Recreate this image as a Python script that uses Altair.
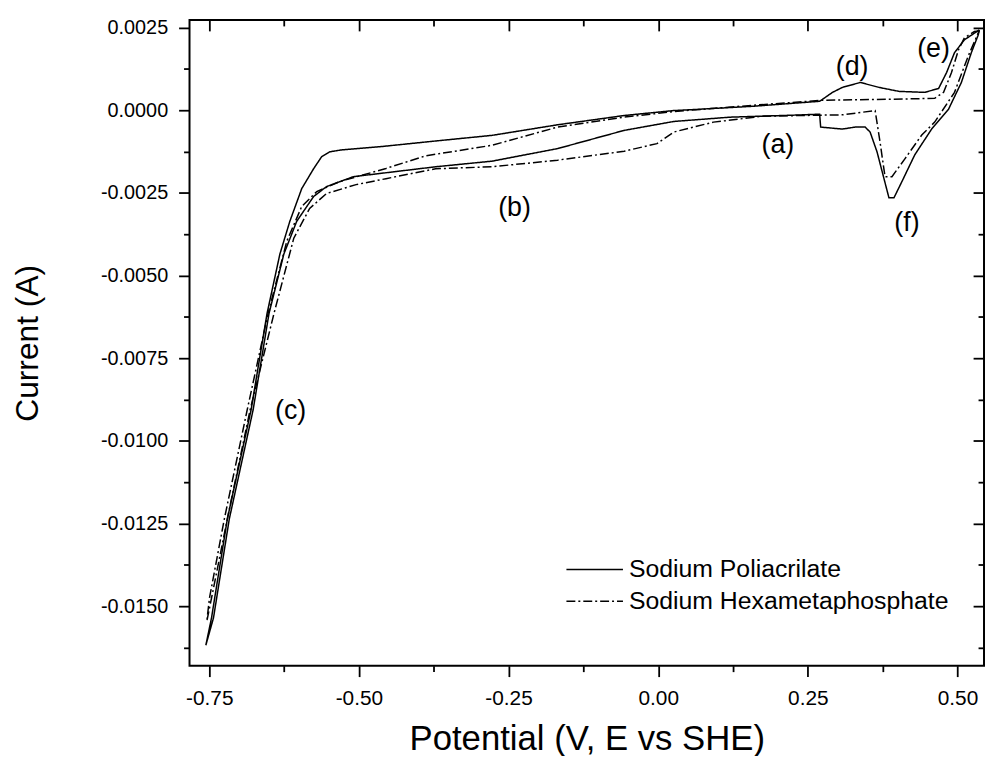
import altair as alt
import pandas as pd

FONT = "Liberation Sans"

series_names = ["Sodium Poliacrilate", "Sodium Hexametaphosphate"]

# Sodium Poliacrilate (solid) - potential (V) and current (A), in drawing order
pa_v = [0.5365, 0.5116, 0.4950, 0.4818, 0.4685, 0.4453, 0.4022, 0.3691, 0.3376, 0.3077,
        0.2912, 0.2697, 0.1586, 0.0592, 0.0260, -0.0569, -0.1680, -0.2774, -0.3717, -0.4630,
        -0.5292, -0.5491, -0.5624, -0.5757, -0.5955, -0.6154, -0.6320, -0.6535, -0.6801, -0.7198,
        -0.7463, -0.7557,
        -0.7430, -0.7165, -0.6767, -0.6502, -0.6254, -0.6039, -0.5757, -0.5541, -0.5094, -0.3717,
        -0.2774, -0.1680, -0.0569, 0.0260, 0.1199, 0.2247, 0.2697, 0.2714, 0.3077, 0.3291,
        0.3457, 0.3540, 0.3656, 0.3772, 0.3855, 0.3938, 0.4071, 0.4286, 0.4568, 0.4850,
        0.5065, 0.5231, 0.5347, 0.5365]
pa_i = [0.00243, 0.00213, 0.00174, 0.00114, 0.00066, 0.00054, 0.00057, 0.00069, 0.00084, 0.00069,
        0.00054, 0.00027, 0.00012, 0.00002, -0.00001, -0.00016, -0.00044, -0.00076, -0.00093, -0.00110,
        -0.00120, -0.00126, -0.00141, -0.00177, -0.00237, -0.00336, -0.00435, -0.00615, -0.00906, -0.01236,
        -0.01536, -0.01618,
        -0.01536, -0.01236, -0.00906, -0.00615, -0.00435, -0.00336, -0.00261, -0.00231, -0.00201, -0.00171,
        -0.00154, -0.00116, -0.00061, -0.00034, -0.00021, -0.00015, -0.00012, -0.00051, -0.00057, -0.00051,
        -0.00051, -0.00066, -0.00126, -0.00207, -0.00265, -0.00265, -0.00216, -0.00135, -0.00057, 0.00003,
        0.00084, 0.00174, 0.00228, 0.00243]

# Sodium Hexametaphosphate (dash-dot)
hx_v = [0.5365, 0.5282, 0.5116, 0.5017, 0.4900, 0.4768, 0.4619, 0.3855, 0.2743, 0.1586,
        0.0260, -0.0569, -0.1680, -0.2774, -0.3884, -0.4547, -0.5324, -0.5704, -0.5955, -0.6204,
        -0.6518, -0.6866, -0.7248, -0.7497, -0.7541,
        -0.7463, -0.7198, -0.6817, -0.6419, -0.6088, -0.5823, -0.5541, -0.5047, -0.4548, -0.3717,
        -0.2774, -0.1680, -0.0569, -0.0021, 0.0260, 0.0923, 0.1752, 0.2697, 0.3077, 0.3624,
        0.3706, 0.3789, 0.3905, 0.4121, 0.4403, 0.4619, 0.4950, 0.5182, 0.5347, 0.5365]
hx_i = [0.00240, 0.00238, 0.00219, 0.00183, 0.00114, 0.00054, 0.00036, 0.00033, 0.00030, 0.00015,
        -0.00004, -0.00021, -0.00051, -0.00106, -0.00138, -0.00176, -0.00216, -0.00246, -0.00291, -0.00396,
        -0.00615, -0.00906, -0.01236, -0.01476, -0.01546,
        -0.01476, -0.01236, -0.00906, -0.00615, -0.00387, -0.00297, -0.00252, -0.00225, -0.00207, -0.00177,
        -0.00171, -0.00151, -0.00124, -0.00101, -0.00066, -0.00036, -0.00018, -0.00015, -0.00014, -0.00001,
        -0.00096, -0.00201, -0.00201, -0.00147, -0.00075, -0.00036, 0.00054, 0.00165, 0.00234, 0.00240]

ann_text = ["(a)", "(b)", "(c)", "(d)", "(e)", "(f)"]
ann_v = [0.200, -0.240, -0.614, 0.324, 0.460, 0.4155]
ann_i = [-0.00106, -0.00296, -0.00909, 0.00132, 0.00184, -0.00341]

x_major = [-0.75, -0.5, -0.25, 0.0, 0.25, 0.5]
x_minor = [-0.625, -0.375, -0.125, 0.125, 0.375]
y_major = [-0.015, -0.0125, -0.01, -0.0075, -0.005, -0.0025, 0.0, 0.0025]
y_minor = [-0.01625, -0.01375, -0.01125, -0.00875, -0.00625, -0.00375, -0.00125, 0.00125]

x_domain = [-0.783, 0.5443]
y_domain = [-0.0168, 0.00273]

rows = []
for k, (v, c) in enumerate(zip(pa_v, pa_i)):
    rows.append({"series": series_names[0], "idx": k, "v": v, "i": c})
for k, (v, c) in enumerate(zip(hx_v, hx_i)):
    rows.append({"series": series_names[1], "idx": k, "v": v, "i": c})
df = pd.DataFrame(rows)
ann_df = pd.DataFrame({"t": ann_text, "v": ann_v, "i": ann_i})

xs = alt.Scale(domain=x_domain, nice=False, zero=False)
ys = alt.Scale(domain=y_domain, nice=False, zero=False)

W, H = 801, 651

x_lab = "replace(format(datum.value, '.2f'), '\u2212', '-')"
y_lab = "replace(format(datum.value, '.4f'), '\u2212', '-')"

base = alt.Chart(df)

lines = base.mark_line(color="black", strokeWidth=1.5).encode(
    x=alt.X("v:Q", scale=xs, axis=alt.Axis(
        orient="bottom", values=x_major, tickSize=11, labelExpr=x_lab,
        labelPadding=11, labelFontSize=21, title="Potential (V, E vs SHE)", titleY=74,
        titleFontSize=35, titleBaseline="middle", domain=False, grid=False)),
    y=alt.Y("i:Q", scale=ys, axis=alt.Axis(
        orient="left", values=y_major, tickSize=11, labelExpr=y_lab,
        labelPadding=11, labelFontSize=20, title="Current (A)", titleX=-163, titleY=H / 2,
        titleFontSize=32, titleAngle=-90, titleAlign="center", titleBaseline="middle",
        domain=False, grid=False)),
    strokeDash=alt.StrokeDash("series:N", scale=alt.Scale(
        domain=series_names, range=[[1, 0], [9, 3, 2, 3]]),
        legend=alt.Legend(
            title=None, orient="none", legendX=379, legendY=539,
            symbolType="stroke", symbolSize=3249, symbolStrokeWidth=1.5,
            symbolStrokeColor="black", labelFontSize=25, labelFont=FONT,
            labelColor="black", labelOffset=5, labelLimit=600,
            clipHeight=30, rowPadding=2)),
    order="idx:Q",
)

minor = base.mark_point(opacity=0).encode(
    x=alt.X("v:Q", scale=xs, axis=alt.Axis(
        orient="bottom", values=x_minor, tickSize=6, labels=False,
        title=None, domain=False, grid=False)),
    y=alt.Y("i:Q", scale=ys, axis=alt.Axis(
        orient="left", values=y_minor, tickSize=6, labels=False,
        title=None, domain=False, grid=False)),
)

top_major = base.mark_point(opacity=0).encode(
    x=alt.X("v:Q", scale=xs, axis=alt.Axis(
        orient="top", values=x_major, tickSize=11, offset=-11, labels=False,
        title=None, domain=False, grid=False)),
    y=alt.Y("i:Q", scale=ys, axis=alt.Axis(
        orient="right", values=y_major, tickSize=11, offset=-11, labels=False,
        title=None, domain=False, grid=False)),
)

top_minor = base.mark_point(opacity=0).encode(
    x=alt.X("v:Q", scale=xs, axis=alt.Axis(
        orient="top", values=x_minor, tickSize=6, offset=-6, labels=False,
        title=None, domain=False, grid=False)),
    y=alt.Y("i:Q", scale=ys, axis=alt.Axis(
        orient="right", values=y_minor, tickSize=6, offset=-6, labels=False,
        title=None, domain=False, grid=False)),
)

labels = alt.Chart(ann_df).mark_text(
    fontSize=27, font=FONT, color="black", baseline="middle", align="center"
).encode(
    x=alt.X("v:Q", scale=xs, axis=None),
    y=alt.Y("i:Q", scale=ys, axis=None),
    text="t:N",
)

chart = alt.layer(lines, minor, top_major, top_minor, labels).resolve_axis(
    x="independent", y="independent"
).properties(
    width=W, height=H,
    autosize=alt.AutoSizeParams(type="none"),
    padding={"left": 183, "top": 9, "right": 1, "bottom": 88},
    background="white",
).configure_view(
    stroke="black", strokeWidth=2
).configure_axis(
    labelFont=FONT, labelColor="black",
    titleFont=FONT, titleColor="black", titleFontWeight="normal",
    tickColor="black", tickWidth=1.8,
)

chart.save("out.html", embed_options={"renderer": "svg", "actions": False})
